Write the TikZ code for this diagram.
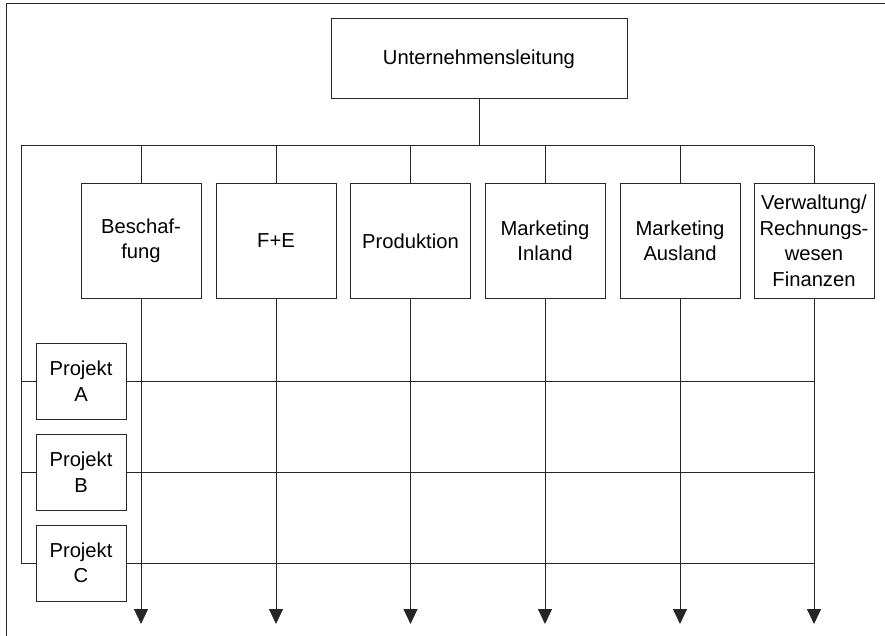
\documentclass[tikz,border=0pt]{standalone}
\usepackage{fontspec}
\setmainfont{Liberation Sans}
\usetikzlibrary{arrows.meta}
\begin{document}
\begin{tikzpicture}[x=1pt,y=-1pt,
  box/.style={draw=black!85, line width=1pt, fill=white, align=center,
    inner sep=0pt, font=\fontsize{20.2}{25.5}\selectfont},
  deptbox/.style={box, minimum width=120pt, minimum height=114pt},
  projbox/.style={box, minimum width=90pt, minimum height=76pt},
  link/.style={draw=black!85, line width=1pt},
  flow/.style={link, -{Triangle[length=15pt,width=14pt]}}]
\useasboundingbox (0,0) rectangle (885,636);

% outer frame
\draw[link] (6,636) -- (6,4) -- (885,4);

% management
\node[box, minimum width=296pt, minimum height=80pt] (top) at (479,59) {Unternehmensleitung};

% departments
\node[deptbox] (d1) at (141,241) {Beschaf-\\fung};
\node[deptbox] (d2) at (276,241) {F+E};
\node[deptbox] (d3) at (410.5,241) {Produktion};
\node[deptbox] (d4) at (545,241) {Marketing\\Inland};
\node[deptbox] (d5) at (680,241) {Marketing\\Ausland};
\node[deptbox] (d6) at (814,241) {Verwaltung/\\Rechnungs-\\wesen\\Finanzen};

% projects
\node[projbox] (pa) at (81,381) {Projekt\\A};
\node[projbox] (pb) at (81,472) {Projekt\\B};
\node[projbox] (pc) at (81,563) {Projekt\\C};

% helper coordinates
\coordinate (busL) at (21,146);
\coordinate (busR) at (d6.north |- busL);
\coordinate (ends) at (0,624);

% bus from management
\draw[link] (top.south) -- (top.south |- busL);
\draw[link] (busL) -- (busR);
\foreach \d in {d1,d2,d3,d4,d5,d6}{
  \draw[link] (\d.north |- busL) -- (\d.north);
  \draw[flow] (\d.south) -- (\d.south |- ends);
}

% project lines
\draw[link] (busL) -- (busL |- pc.west);
\foreach \p in {pa,pb,pc}{
  \draw[link] (busL |- \p.west) -- (\p.west);
  \draw[link] (\p.east) -- (d6.south |- \p.east);
}
\end{tikzpicture}
\end{document}
